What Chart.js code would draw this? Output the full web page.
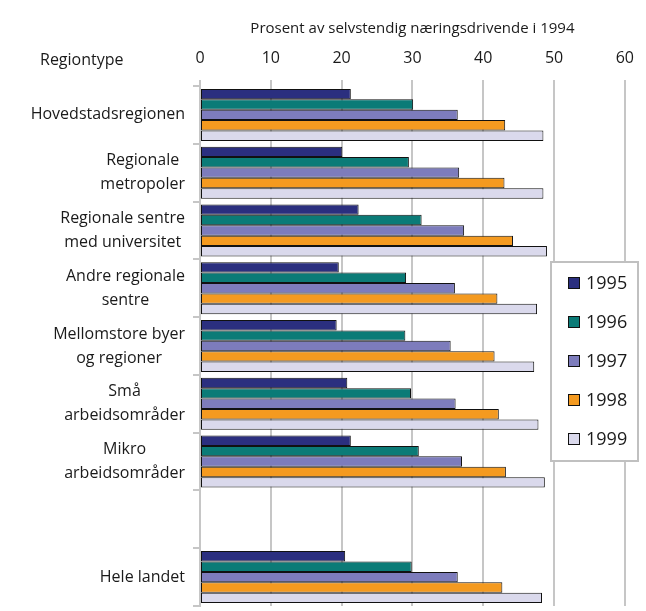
<!DOCTYPE html>
<html>
<head>
<meta charset="utf-8">
<script src="https://cdn.jsdelivr.net/npm/chart.js@4.4.1/dist/chart.umd.min.js"></script>
<style>
  html, body { margin: 0; padding: 0; background: #fff; }
  #wrap { width: 646px; height: 611px; }
</style>
</head>
<body>
<div id="wrap"><canvas id="chart"></canvas></div>
<script>
const categories = [
    ['Hovedstadsregionen'],
    ['Regionale', 'metropoler'],
    ['Regionale sentre', 'med universitet'],
    ['Andre regionale', 'sentre'],
    ['Mellomstore byer', 'og regioner'],
    ['Små', 'arbeidsområder'],
    ['Mikro', 'arbeidsområder'],
    [''],
    ['Hele landet']
];
const years = ['1995', '1996', '1997', '1998', '1999'];
const y1995 = [21.3, 20.1, 22.4, 19.6, 19.3, 20.8, 21.3, null, 20.5];
const y1996 = [30.1, 29.5, 31.3, 29.1, 29.0, 29.8, 30.9, null, 29.9];
const y1997 = [36.4, 36.6, 37.3, 36.0, 35.4, 36.1, 37.0, null, 36.4];
const y1998 = [43.1, 43.0, 44.2, 42.0, 41.6, 42.2, 43.2, null, 42.7];
const y1999 = [48.5, 48.5, 49.0, 47.6, 47.2, 47.8, 48.7, null, 48.3];
const xTitle = 'Prosent av selvstendig næringsdrivende i 1994';
const yTitle = 'Regiontype';

const colors = ['#2b2f7f', '#0b7b77', '#7d7cbc', '#f49a20', '#dad9ec'];
const FONT = '"Open Sans", "DejaVu Sans", sans-serif';
const TEXT = '#1a1a1a';
const GRID = '#c6c6c6';

// y labels: lines centred inside a right-aligned block
const yLabels = {
    id: 'yLabels',
    afterDraw(chart) {
        const ctx = chart.ctx;
        const y = chart.scales.y;
        ctx.save();
        ctx.font = '16px ' + FONT;
        ctx.fillStyle = TEXT;
        ctx.textAlign = 'center';
        ctx.textBaseline = 'middle';
        const right = 185;
        const lh = 24;
        categories.forEach((lines, i) => {
            const cy = y.getPixelForValue(i);
            const w = Math.max(...lines.map(l => ctx.measureText(l).width));
            const cx = right - w / 2;
            lines.forEach((l, k) => {
                ctx.fillText(l, cx, cy + (k - (lines.length - 1) / 2) * lh);
            });
        });
        ctx.textAlign = 'left';
        ctx.fillText(yTitle, 40, 60);
        ctx.restore();
    }
};

// boxed legend sitting over the right part of the plot
const boxLegend = {
    id: 'boxLegend',
    afterDraw(chart) {
        const ctx = chart.ctx;
        ctx.save();
        ctx.fillStyle = '#fff';
        ctx.fillRect(551, 262, 87, 199);
        ctx.strokeStyle = '#c0c0c0';
        ctx.lineWidth = 2;
        ctx.strokeRect(551, 262, 87, 199);
        ctx.font = '18px ' + FONT;
        ctx.textBaseline = 'middle';
        ctx.textAlign = 'left';
        chart.data.datasets.forEach((ds, i) => {
            const cy = 283 + i * 39;
            ctx.fillStyle = ds.backgroundColor;
            ctx.fillRect(568, cy - 6, 12, 12);
            ctx.strokeStyle = '#111';
            ctx.lineWidth = 1;
            ctx.strokeRect(568.5, cy - 5.5, 11, 11);
            ctx.fillStyle = TEXT;
            ctx.fillText(ds.label, 586, cy + 1);
        });
        ctx.restore();
    }
};

const series = [y1995, y1996, y1997, y1998, y1999];

new Chart(document.getElementById('chart'), {
    type: 'bar',
    data: {
        labels: categories,
        datasets: series.map((vals, i) => ({
            label: years[i],
            data: vals,
            backgroundColor: colors[i],
            borderColor: '#111',
            borderWidth: 1,
            borderSkipped: false,
            categoryPercentage: 0.9,
            barPercentage: 1.0
        }))
    },
    options: {
        indexAxis: 'y',
        responsive: true,
        maintainAspectRatio: false,
        animation: false,
        layout: { padding: { top: 0, right: 19, bottom: 5, left: 0 } },
        plugins: {
            legend: { display: false },
            tooltip: { enabled: false }
        },
        scales: {
            x: {
                position: 'top',
                min: 0,
                max: 60,
                ticks: {
                    stepSize: 10,
                    padding: 12,
                    color: TEXT,
                    font: { family: FONT, size: 16 }
                },
                grid: {
                    color: GRID,
                    lineWidth: 2,
                    tickLength: 6,
                    tickColor: GRID
                },
                border: { display: false },
                title: {
                    display: true,
                    text: xTitle,
                    color: TEXT,
                    font: { family: FONT, size: 15 },
                    padding: { top: 20, bottom: 0 }
                },
                afterFit(scale) { scale.height = 86; }
            },
            y: {
                ticks: { display: false },
                grid: {
                    offset: true,
                    drawOnChartArea: false,
                    tickLength: 7,
                    tickColor: GRID,
                    lineWidth: 2
                },
                border: { display: true, color: GRID, width: 2 },
                afterFit(scale) { scale.width = 200; }
            }
        }
    },
    plugins: [yLabels, boxLegend]
});
</script>
</body>
</html>
